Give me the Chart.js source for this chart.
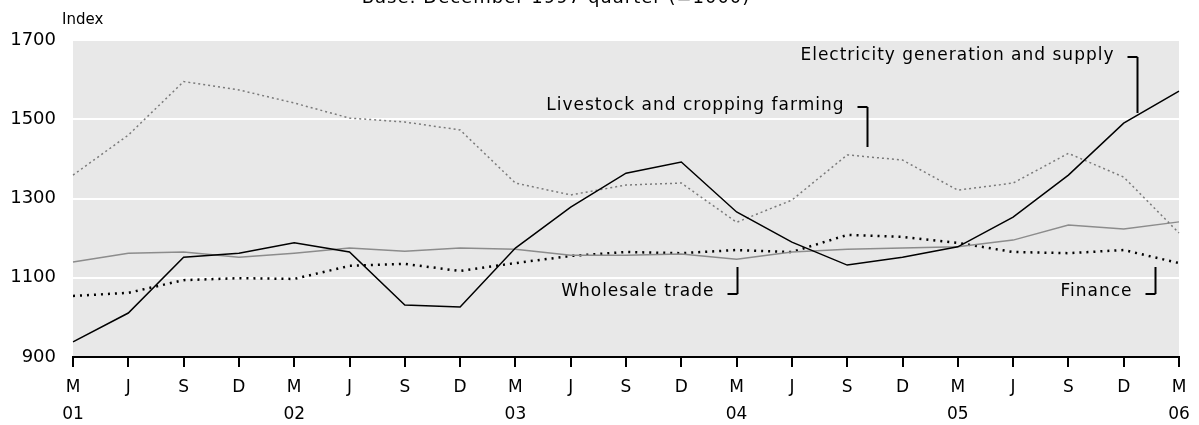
<!DOCTYPE html>
<html>
<head>
<meta charset="utf-8">
<script src="https://cdn.jsdelivr.net/npm/chart.js@4"></script>
<style>
  html, body { margin: 0; padding: 0; background: #fff; }
  #wrap { width: 1199px; height: 425px; }
</style>
</head>
<body>
<div id="wrap"><canvas id="chart"></canvas></div>
<script>
const quarters = ["M","J","S","D","M","J","S","D","M","J","S","D","M","J","S","D","M","J","S","D","M"];
const years = ["01","","","","02","","","","03","","","","04","","","","05","","","","06"];

const electricity = [938,1011,1152,1162,1188,1165,1031,1026,1175,1278,1364,1392,1266,1190,1132,1152,1178,1253,1359,1490,1571];
const livestock = [1359,1460,1595,1574,1541,1503,1493,1473,1339,1309,1334,1339,1240,1296,1410,1397,1321,1339,1414,1354,1213];
const wholesale = [1140,1162,1165,1152,1162,1175,1167,1175,1172,1157,1157,1160,1147,1165,1172,1175,1178,1195,1233,1223,1241];
const finance = [1054,1062,1094,1099,1097,1130,1135,1117,1137,1155,1165,1162,1170,1165,1208,1203,1188,1165,1162,1170,1137];

const yTicks = [900,1100,1300,1500,1700];

// label text, leader line in data units: x index, y from / to, where the hook sits
const notes = [
  { text: "Electricity generation and supply", x: 19.24, yTop: 1657, yBot: 1516, hook: "top" },
  { text: "Livestock and cropping farming", x: 14.36, yTop: 1531, yBot: 1430, hook: "top" },
  { text: "Wholesale trade", x: 12.0, yTop: 1127, yBot: 1059, hook: "bottom" },
  { text: "Finance", x: 19.57, yTop: 1127, yBot: 1059, hook: "bottom" }
];

const FONT = "'DejaVu Sans', sans-serif";

const decor = {
  id: "decor",
  beforeDraw(chart) {
    const { ctx, chartArea: a } = chart;
    ctx.save();
    ctx.fillStyle = "#e8e8e8";
    ctx.fillRect(a.left, a.top, a.right - a.left, a.bottom - a.top);
    ctx.restore();
  },
  afterDraw(chart) {
    const { ctx, scales } = chart;
    const xs = scales.x, ys = scales.y;
    ctx.save();
    ctx.fillStyle = "#000";
    ctx.letterSpacing = "1px";
    ctx.font = "18px " + FONT;
    ctx.textAlign = "center";
    ctx.textBaseline = "alphabetic";
    ctx.fillText("Base: December 1997 quarter (=1000)", 556, 3);
    ctx.letterSpacing = "0px";
    ctx.font = "15px " + FONT;
    ctx.textAlign = "left";
    ctx.fillText("Index", 62, 24);

    ctx.strokeStyle = "#000";
    ctx.lineWidth = 2;
    ctx.letterSpacing = "1px";
    ctx.font = "17px " + FONT;
    ctx.textBaseline = "middle";
    ctx.textAlign = "right";
    notes.forEach(n => {
      const px = Math.round(xs.getPixelForValue(n.x)) + 0.5;
      const yt = ys.getPixelForValue(n.yTop);
      const yb = ys.getPixelForValue(n.yBot);
      const hy = n.hook === "top" ? yt : yb;
      ctx.beginPath();
      ctx.moveTo(px - 10, hy);
      ctx.lineTo(px, hy);
      ctx.moveTo(px, yt);
      ctx.lineTo(px, yb);
      ctx.stroke();
      ctx.fillText(n.text, px - 23, hy - (n.hook === "top" ? 1 : 2));
    });
    ctx.restore();
  }
};

new Chart(document.getElementById("chart"), {
  type: "line",
  data: {
    labels: quarters.map((q, i) => [q, years[i]]),
    datasets: [
      { label: "Electricity generation and supply", data: electricity, borderColor: "#000", borderWidth: 1.5 },
      { label: "Livestock and cropping farming", data: livestock, borderColor: "#7a7a7a", borderWidth: 1.5, borderDash: [2, 3] },
      { label: "Wholesale trade", data: wholesale, borderColor: "#8c8c8c", borderWidth: 1.5 },
      { label: "Finance", data: finance, borderColor: "#000", borderWidth: 2.5, borderDash: [2, 5] }
    ]
  },
  options: {
    responsive: true,
    maintainAspectRatio: false,
    animation: false,
    layout: { padding: { top: 40, right: 20, left: 0, bottom: 0 } },
    elements: { point: { radius: 0 }, line: { tension: 0 } },
    plugins: { legend: { display: false }, tooltip: { enabled: false } },
    scales: {
      x: {
        offset: false,
        grid: { drawOnChartArea: false, drawTicks: true, tickLength: 10, color: "#000", lineWidth: 2 },
        border: { color: "#000", width: 2 },
        ticks: { color: "#000", font: { family: FONT, size: 17, lineHeight: "27px" }, maxRotation: 0, autoSkip: false, padding: 7 },
        afterFit(s) { s.height = 68; }
      },
      y: {
        min: 900, max: 1700,
        afterBuildTicks(s) { s.ticks = yTicks.map(v => ({ value: v })); },
        grid: { color: "#fff", lineWidth: 2, drawTicks: false },
        border: { display: false },
        ticks: { color: "#000", font: { family: FONT, size: 18 }, padding: 17, callback: v => String(v) },
        afterFit(s) { s.width = 73; }
      }
    }
  },
  plugins: [decor]
});
</script>
</body>
</html>
